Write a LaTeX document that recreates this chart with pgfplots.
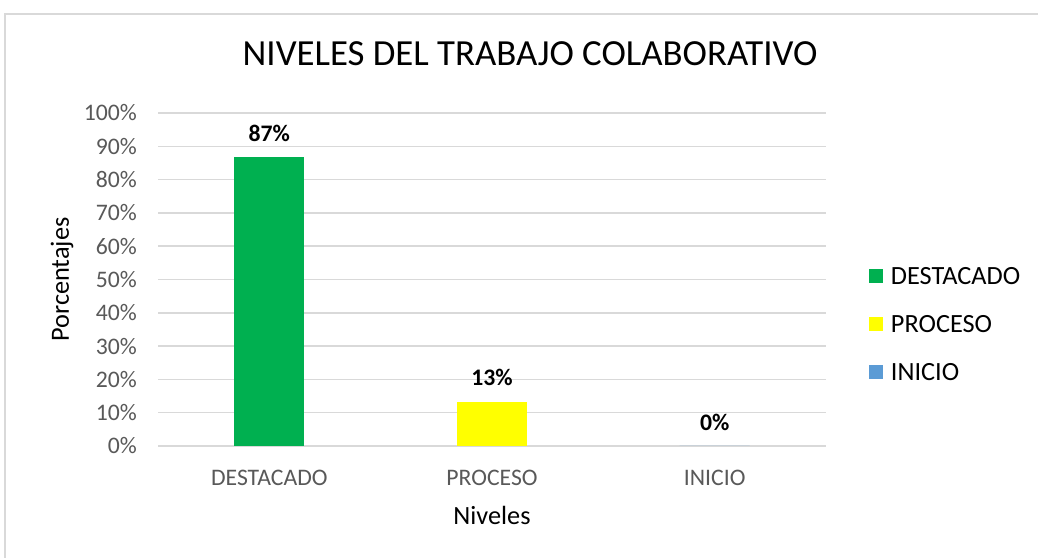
\documentclass[border=0pt]{standalone}
\usepackage{fontspec}
\setmainfont{Carlito}
\usepackage{pgfplots}
\pgfplotsset{compat=1.18}
\definecolor{cgreen}{HTML}{00B050}
\definecolor{cyellow}{HTML}{FFFF00}
\definecolor{cblue}{HTML}{5B9BD5}
\definecolor{gridgray}{HTML}{D9D9D9}
\definecolor{ticktext}{HTML}{595959}
\begin{document}
\begin{tikzpicture}[x=1bp,y=1bp]
\useasboundingbox (0,0) rectangle (1038,558);
\fill[white] (0,0) rectangle (1038,558);
\draw[gridgray, line width=1.5bp] (5,-2) -- (5,544) -- (1040,544);
\begin{axis}[
  at={(158bp,112bp)}, anchor=south west,
  scale only axis, width=668bp, height=333bp,
  xmin=-0.5, xmax=2.5, ymin=0, ymax=100,
  ybar, bar width=70bp,
  axis line style={draw=none},
  major tick length=0pt,
  ymajorgrids, grid style={gridgray, line width=1.5bp},
  xtick={0,1,2}, xticklabels={DESTACADO,PROCESO,INICIO},
  ytick={0,10,...,100},
  /pgf/number format/assume math mode=true,
  yticklabel={\pgfmathprintnumber{\tick}\%},
  ticklabel style={font=\fontsize{23.7bp}{28bp}\selectfont, text=ticktext},
  yticklabel style={anchor=east, inner sep=0pt, xshift=-21bp},
  xticklabel style={anchor=base, inner sep=0pt, yshift=-40bp},
  title={NIVELES DEL TRABAJO COLABORATIVO},
  title style={at={(axis description cs:0.557,1.126)}, anchor=base, inner sep=0pt, font=\fontsize{36.8bp}{44bp}\selectfont},
  xlabel={Niveles},
  xlabel style={at={(axis description cs:0.5,-0.237)}, anchor=base, inner sep=0pt, font=\fontsize{26.3bp}{32bp}\selectfont},
  ylabel={Porcentajes},
  ylabel style={at={(axis description cs:-0.1437,0.5)}, anchor=center, inner sep=0pt, font=\fontsize{26.3bp}{32bp}\selectfont},
  nodes near coords={\pgfmathprintnumber[fixed,precision=0]{\pgfplotspointmeta}\%},
  nodes near coords style={font=\bfseries\fontsize{23.7bp}{28bp}\selectfont, text=black, anchor=center, yshift=24bp, inner sep=0pt},
  legend image code/.code={\fill[#1] (0bp,-7bp) rectangle (14bp,7bp);},
  legend style={at={(axis description cs:1.064,0.366)}, anchor=west, draw=none, fill=none,
    inner sep=0pt, row sep=31bp,
    font=\fontsize{26.3bp}{32bp}\selectfont,
    nodes={inner sep=0pt, text height=17bp, text depth=0bp},
    /tikz/every odd column/.append style={column sep=8bp}},
  legend cell align=left,
]
\addplot[fill=cgreen, draw=none, bar shift=0pt] coordinates {(0,86.67)};
\addplot[fill=cyellow, draw=none, bar shift=0pt] coordinates {(1,13.33)};
\addplot[fill=cblue, draw=none, bar shift=0pt] coordinates {(2,0)};
\legend{DESTACADO,PROCESO,INICIO}
\end{axis}
\end{tikzpicture}
\end{document}
